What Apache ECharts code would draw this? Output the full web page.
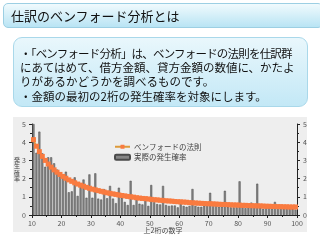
<!DOCTYPE html>
<html>
<head>
<meta charset="utf-8">
<script src="https://cdn.jsdelivr.net/npm/echarts@6/dist/echarts.min.js"></script>
<style>
  html, body { margin: 0; padding: 0; width: 320px; height: 240px; background: #fff; overflow: hidden; }
  body { position: relative; font-family: "Noto Sans CJK JP", sans-serif; }
  #chart { position: absolute; left: 0; top: 0; width: 320px; height: 240px; }
  .title {
    position: absolute; left: 3px; top: 3px; width: 311px; height: 23px;
    border: 1px solid #9ccfe3; border-radius: 5px;
    background: linear-gradient(#f0fafd, #b9e4f4);
    font-size: 13px; line-height: 23px; padding-left: 7px; box-sizing: content-box;
    color: #111; z-index: 2;
  }
  .box {
    position: absolute; left: 13px; top: 37px; width: 295px; height: 70px;
    border: 1px solid #a9d8ea; border-radius: 9px;
    background: linear-gradient(#e9f7fc, #c3e8f6);
    font-size: 11.5px; color: #111; z-index: 2; box-sizing: border-box;
  }
  .box div { position: absolute; left: 6px; white-space: nowrap; height: 14px; line-height: 14px; }
  .l1 { letter-spacing: -0.8px; }
</style>
</head>
<body>
<div class="title">仕訳のベンフォード分析とは</div>
<div class="box">
  <div class="l1" style="top:7.7px">・「ベンフォード分析」は、ベンフォードの法則を仕訳群</div>
  <div style="top:21.7px">にあてはめて、借方金額、貸方金額の数値に、かたよ</div>
  <div style="top:36px">りがあるかどうかを調べるものです。</div>
  <div style="top:50.7px">・金額の最初の2桁の発生確率を対象にします。</div>
</div>
<div id="chart"></div>
<script>
// 上2桁の数字 10〜99
let digits = [];
for (let d = 10; d <= 99; d++) digits.push(String(d));

// 実際の発生確率 (%)
let actual = [
    5.0, 3.42, 4.58, 3.39, 2.65, 3.17, 3.17, 2.84, 2.5, 2.15,
    2.05, 2.38, 1.25, 1.3, 2.07, 1.05, 1.75, 1.95, 0.95, 2.23,
    0.95, 2.29, 0.9, 0.85, 1.42, 0.92, 1.6, 0.9, 0.65, 1.5,
    0.95, 0.72, 0.55, 1.88, 0.55, 0.88, 0.62, 0.58, 0.85, 0.5,
    1.65, 0.7, 0.6, 0.58, 1.6, 0.55, 0.5, 0.52, 0.52, 0.42,
    0.82, 0.5, 0.45, 0.5, 1.43, 0.5, 0.45, 0.45, 0.52, 0.5,
    1.22, 0.48, 0.5, 0.45, 0.45, 1.33, 0.45, 0.42, 0.42, 0.42,
    1.85, 0.42, 0.38, 0.45, 0.68, 0.45, 1.72, 0.4, 0.35, 0.38,
    0.42, 0.35, 0.72, 0.38, 0.42, 0.35, 0.4, 0.42, 0.35, 0.3
];

// ベンフォードの法則 (%)
let benford = [
    4.14, 3.78, 3.48, 3.22, 3.00, 2.80, 2.63, 2.48, 2.35, 2.23,
    2.12, 2.02, 1.93, 1.85, 1.77, 1.70, 1.64, 1.58, 1.52, 1.47,
    1.42, 1.38, 1.34, 1.30, 1.26, 1.22, 1.19, 1.16, 1.13, 1.10,
    1.07, 1.05, 1.02, 1.00, 0.98, 0.95, 0.93, 0.91, 0.90, 0.88,
    0.86, 0.84, 0.83, 0.81, 0.80, 0.78, 0.77, 0.76, 0.74, 0.73,
    0.72, 0.71, 0.70, 0.68, 0.67, 0.66, 0.65, 0.64, 0.63, 0.62,
    0.62, 0.61, 0.60, 0.59, 0.58, 0.58, 0.57, 0.56, 0.55, 0.55,
    0.54, 0.53, 0.53, 0.52, 0.51, 0.51, 0.50, 0.50, 0.49, 0.48,
    0.48, 0.47, 0.47, 0.46, 0.46, 0.45, 0.45, 0.44, 0.44, 0.44
];

let mychart = echarts.init(document.getElementById("chart"));

let axisLabel = { fontSize: 7, color: "#555", fontFamily: "Noto Sans CJK JP" };
let yAxisBase = {
    type: "value",
    min: 0,
    max: 5,
    interval: 1,
    axisLine: { show: true, lineStyle: { color: "#222", width: 1 } },
    axisTick: { show: true, length: 3, lineStyle: { color: "#222" } },
    minorTick: { show: true, splitNumber: 2, length: 2, lineStyle: { color: "#222" } },
    splitLine: { show: false },
    axisLabel: Object.assign({ margin: 6 }, axisLabel)
};

let options = {
    animation: false,
    textStyle: { fontFamily: "Noto Sans CJK JP" },
    graphic: [
        {
            type: "rect",
            z: -10,
            shape: { x: 13, y: 117, width: 294, height: 115 },
            style: { fill: "#eeeeee" }
        },
        {
            type: "text",
            x: 163, y: 230,
            style: { text: "上2桁の数字", fontSize: 7, fill: "#444", align: "center", verticalAlign: "middle", fontFamily: "Noto Sans CJK JP" }
        },
        {
            type: "text",
            x: 17, y: 169,
            style: { text: "発\n生\n確\n率", fontSize: 6, lineHeight: 6.5, fill: "#444", align: "center", verticalAlign: "middle", fontFamily: "Noto Sans CJK JP" }
        }
    ],
    grid: { left: 32, right: 23, top: 124, bottom: 25 },
    legend: {
        orient: "vertical",
        left: 114,
        top: 143,
        itemWidth: 15,
        itemHeight: 5,
        itemGap: 3,
        padding: 0,
        textStyle: { fontSize: 7.5, color: "#444", padding: [0, 0, 0, -1] },
        data: ["ベンフォードの法則", "実際の発生確率"]
    },
    xAxis: [{
        type: "value",
        min: 10,
        max: 100,
        interval: 10,
        position: "bottom",
        axisLine: { show: true, lineStyle: { color: "#222" } },
        axisTick: { show: true, length: 3, lineStyle: { color: "#222" } },
        minorTick: { show: true, splitNumber: 2, length: 2, lineStyle: { color: "#222" } },
        splitLine: { show: false },
        axisLabel: Object.assign({ margin: 5 }, axisLabel)
    }, {
        type: "category",
        data: digits,
        show: false,
        boundaryGap: true
    }],
    yAxis: [
        Object.assign({ position: "left" }, yAxisBase),
        Object.assign({ position: "right" }, yAxisBase)
    ],
    series: [{
        name: "実際の発生確率",
        type: "bar",
        xAxisIndex: 1,
        yAxisIndex: 0,
        barCategoryGap: "30%",
        data: actual,
        itemStyle: { color: "#858585", borderColor: "#4a4a4a", borderWidth: 0.5 }
    }, {
        name: "ベンフォードの法則",
        type: "line",
        xAxisIndex: 1,
        yAxisIndex: 0,
        data: benford,
        symbol: "rect",
        symbolSize: 5,
        showAllSymbol: true,
        lineStyle: { color: "#dd9a3a", width: 1.5 },
        itemStyle: { color: "#f97b40" },
        z: 3
    }]
};
mychart.setOption(options);
</script>
</body>
</html>
